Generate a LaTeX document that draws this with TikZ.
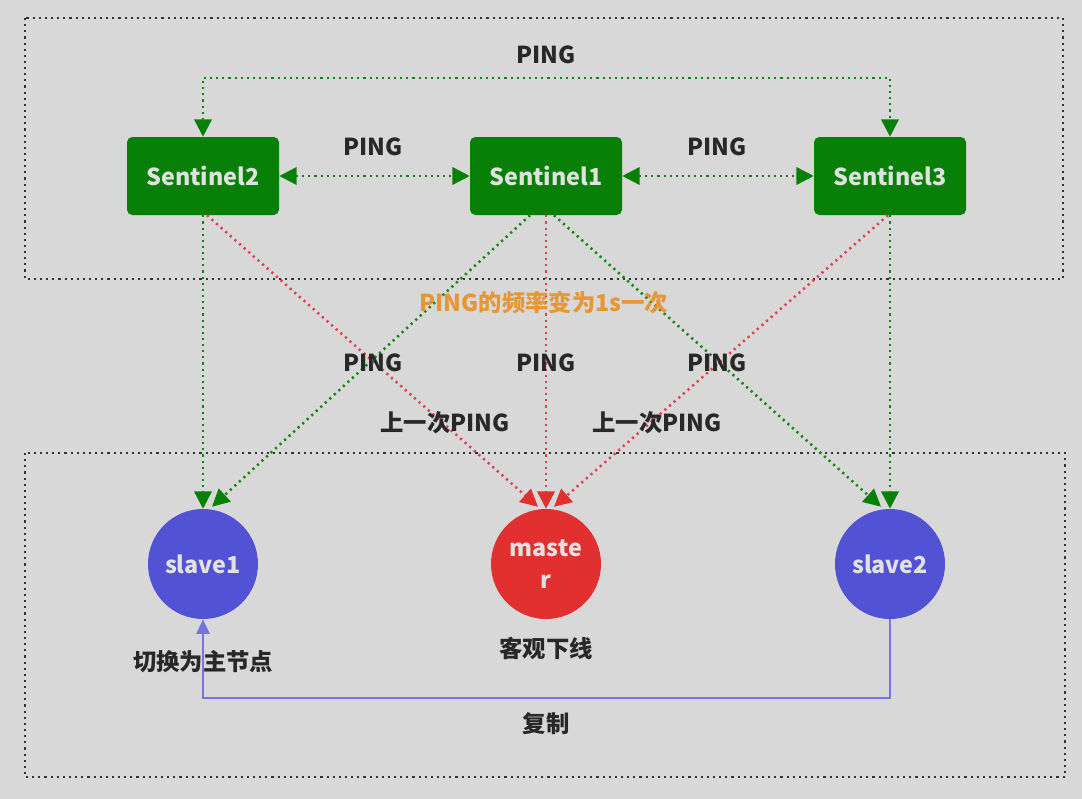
\documentclass[tikz,border=0pt]{standalone}
\usepackage{fontspec}
\setmainfont{Noto Sans CJK SC}
\usetikzlibrary{arrows.meta,calc}
\definecolor{bg}{RGB}{216,216,216}
\definecolor{sgreen}{RGB}{8,128,8}
\definecolor{lgreen}{RGB}{20,130,20}
\definecolor{sblue}{RGB}{82,82,212}
\definecolor{sred}{RGB}{226,48,48}
\definecolor{lred}{RGB}{226,60,80}
\definecolor{txt}{RGB}{40,40,40}
\definecolor{orng}{RGB}{232,150,50}
\definecolor{ntxt}{RGB}{225,225,225}
\tikzset{
  sentbox/.style={draw=none,fill=sgreen,rounded corners=4pt,minimum width=114pt,minimum height=58.5pt,text=ntxt,font=\bfseries\fontsize{17.5}{20}\selectfont},
  rnode/.style={circle,draw=none,minimum size=82.5pt,inner sep=0pt,text=ntxt,font=\bfseries\fontsize{17.5}{24}\selectfont,align=center},
  gdot/.style={draw=lgreen,line width=1.9pt,dash pattern=on 1.6pt off 3pt},
  rdot/.style={draw=lred,line width=1.9pt,dash pattern=on 1.6pt off 3pt},
  kdot/.style={draw=black!80,line width=1.9pt,dash pattern=on 1.6pt off 3pt},
  gtip/.style={-{Triangle[length=13pt,width=13pt,color=sgreen,fill=sgreen]}},
  rtip/.style={-{Triangle[length=13pt,width=13pt,color=sred,fill=sred]}},
  gtips/.style={{Triangle[length=13pt,width=13pt,color=sgreen,fill=sgreen]}-{Triangle[length=13pt,width=13pt,color=sgreen,fill=sgreen]}},
  lbl/.style={text=txt,font=\bfseries\fontsize{17.5}{20}\selectfont},
}
\begin{document}
\begin{tikzpicture}[x=0.75pt,y=-0.75pt]
\fill[bg] (0,0) rectangle (1082,799);
\useasboundingbox (0,0) rectangle (1082,799);
% frames
\draw[kdot] (25,18) rectangle (1063,279);
\draw[kdot] (25,453) rectangle (1065,777);
% nodes
\node[sentbox] (s2) at (203,176) {Sentinel2};
\node[sentbox] (s1) at (546,176) {Sentinel1};
\node[sentbox] (s3) at (890,176) {Sentinel3};
\node[rnode,fill=sblue] (sl1) at (203,564) {slave1};
\node[rnode,fill=sred] (ms) at (546,564) {maste\\r};
\node[rnode,fill=sblue] (sl2) at (890,564) {slave2};
% top PING loop
\coordinate (tl) at (203,78);
\coordinate (tr) at (890,78);
\draw[gdot,gtips] (s2.north) -- (tl) -- (tr) -- (s3.north);
\draw[gdot,gtips] (s2.east) -- (s1.west);
\draw[gdot,gtips] (s1.east) -- (s3.west);
% red to master
\draw[rdot,rtip] ($(s2.south)+(4,0)$) -- ($(ms.north)+(-8,-2)$);
\draw[rdot,rtip] (s1.south) -- (ms.north);
\draw[rdot,rtip] ($(s3.south)+(-2,0)$) -- ($(ms.north)+(8,-2)$);
% green to slaves
\draw[gdot,gtip] (s2.south) -- (sl1.north);
\draw[gdot,gtip] ($(s1.south)+(-16,0)$) -- ($(sl1.north)+(9,-2)$);
\draw[gdot,gtip] ($(s1.south)+(8,0)$) -- ($(sl2.north)+(-9,-2)$);
\draw[gdot,gtip] (s3.south) -- (sl2.north);
% replication
\coordinate (br) at (890,698);
\coordinate (bl) at (203,698);
\draw[sblue!80,line width=1.3pt,-{Triangle[length=11pt,width=10pt]}] (sl2.south) -- (br) -- (bl) -- (sl1.south);
% labels
\node[lbl] (p0) at (546,55) {PING};
\node[lbl] (p1) at (373,147) {PING};
\node[lbl] (p2) at (717,147) {PING};
\node[text=orng,font=\bfseries\fontsize{17.5}{20}\selectfont] (fq) at (544,303) {PING的频率变为1s一次};
\node[lbl] (p3) at (373,363) {PING};
\node[lbl] (p4) at (546,363) {PING};
\node[lbl] (p5) at (717,363) {PING};
\node[lbl] (l1) at (445,423) {上一次PING};
\node[lbl] (l2) at (657,423) {上一次PING};
\node[lbl] (c1) at (203,662) {切换为主节点};
\node[lbl] (c2) at (546,648) {客观下线};
\node[lbl] (c3) at (546,724) {复制};
\end{tikzpicture}
\end{document}
